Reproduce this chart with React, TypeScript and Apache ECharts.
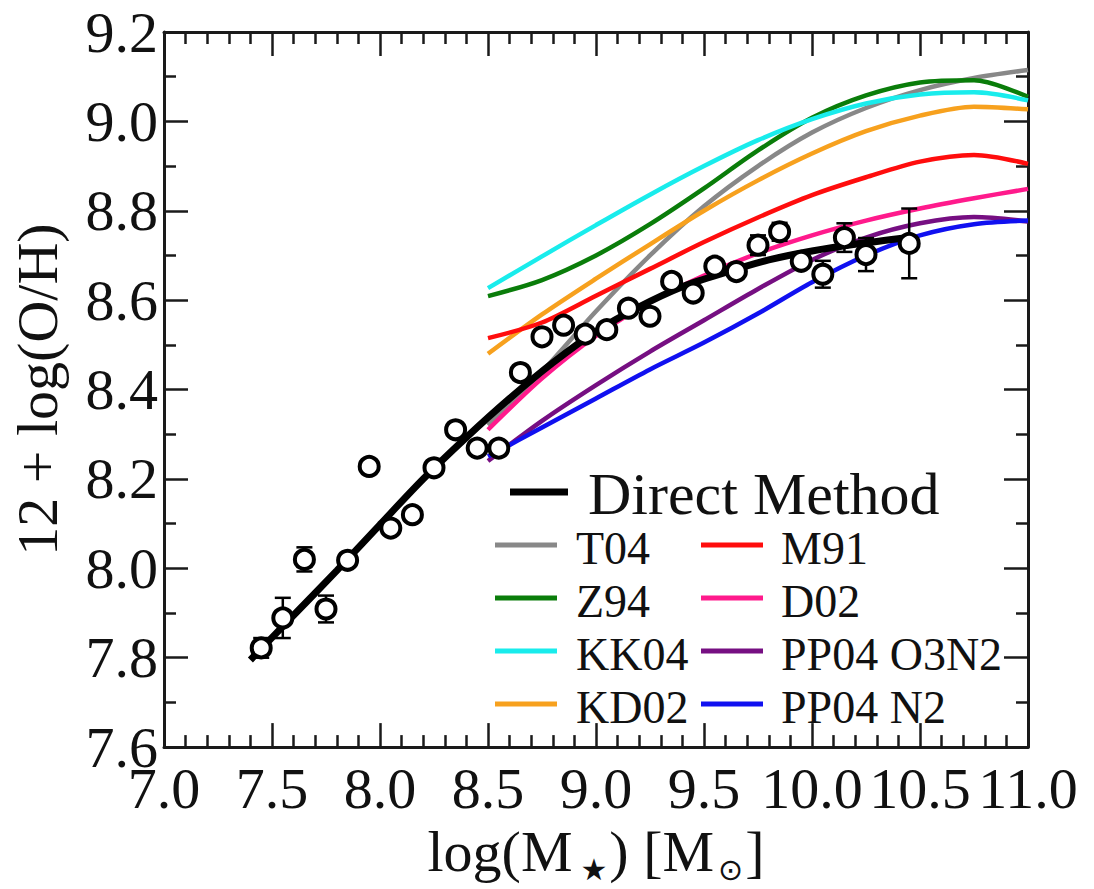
import React, { useEffect, useRef } from 'react';
import * as echarts from 'echarts';

// Direct-method binned data
const massBins = [7.45, 7.55, 7.65, 7.75, 7.85, 7.95, 8.05, 8.15, 8.25, 8.35, 8.45, 8.55, 8.65, 8.75, 8.85, 8.95, 9.05, 9.15, 9.25, 9.35, 9.45, 9.55, 9.65, 9.75, 9.85, 9.95, 10.05, 10.15, 10.25, 10.45];
const directOH = [7.822, 7.889, 8.02, 7.909, 8.018, 8.228, 8.09, 8.12, 8.225, 8.31, 8.269, 8.269, 8.438, 8.518, 8.544, 8.524, 8.534, 8.582, 8.564, 8.642, 8.616, 8.676, 8.664, 8.723, 8.753, 8.687, 8.658, 8.74, 8.702, 8.727];
const directErr = [0.022, 0.045, 0.027, 0.03, 0.01, 0.01, 0.01, 0.01, 0.01, 0.01, 0.01, 0.01, 0.01, 0.01, 0.01, 0.01, 0.01, 0.01, 0.01, 0.01, 0.01, 0.01, 0.01, 0.022, 0.02, 0.015, 0.03, 0.032, 0.037, 0.078];

// Direct method fit
const fitMass = [7.4, 7.6, 7.8, 8.0, 8.2, 8.4, 8.6, 8.8, 9.0, 9.2, 9.4, 9.6, 9.8, 10.0, 10.2, 10.45];
const fitOH = [7.795, 7.895, 7.995, 8.098, 8.2, 8.293, 8.38, 8.46, 8.53, 8.585, 8.63, 8.662, 8.69, 8.71, 8.725, 8.74];

// Strong-line calibrations
const calibMass = [8.5, 8.75, 9.0, 9.25, 9.5, 9.75, 10.0, 10.25, 10.5, 10.75, 11.0];
const T04 = [8.32, 8.44, 8.575, 8.7, 8.81, 8.9, 8.975, 9.03, 9.07, 9.097, 9.115];
const Z94 = [8.609, 8.645, 8.7, 8.77, 8.85, 8.935, 9.008, 9.058, 9.087, 9.092, 9.055];
const KK04 = [8.627, 8.698, 8.768, 8.836, 8.9, 8.958, 9.005, 9.04, 9.06, 9.065, 9.047];
const KD02 = [8.48, 8.568, 8.648, 8.725, 8.8, 8.868, 8.928, 8.978, 9.013, 9.033, 9.027];
const M91 = [8.515, 8.55, 8.61, 8.67, 8.73, 8.785, 8.835, 8.875, 8.91, 8.925, 8.905];
const D02 = [8.31, 8.425, 8.52, 8.595, 8.655, 8.705, 8.745, 8.778, 8.805, 8.828, 8.849];
const PP04O3N2 = [8.24, 8.33, 8.41, 8.485, 8.555, 8.625, 8.69, 8.74, 8.772, 8.786, 8.776];
const PP04N2 = [8.25, 8.315, 8.38, 8.445, 8.505, 8.57, 8.64, 8.7, 8.745, 8.77, 8.778];

const calibNames = ['T04', 'Z94', 'KK04', 'KD02', 'M91', 'D02', 'PP04 O3N2', 'PP04 N2'];
const calibValues = [T04, Z94, KK04, KD02, M91, D02, PP04O3N2, PP04N2];
const calibColors = ['#888888', '#0a7d0a', '#19ecec', '#f7a11e', '#ff0d0d', '#ff1a8c', '#760f82', '#1010f0'];

const FONT = 'Liberation Serif';

export default function App() {
  const ref = useRef<HTMLDivElement>(null);
  useEffect(() => {
    document.body.style.margin = '0';
    const chart = echarts.init(ref.current!, null, { renderer: 'svg' });

    const tickCommon = {
      axisLine: { show: true, lineStyle: { color: '#1a1a1a', width: 3 } },
      axisTick: { show: true, inside: true, length: 24, lineStyle: { color: '#1a1a1a', width: 2.5 } },
      splitLine: { show: false },
    };

    const xBase = {
      type: 'value', min: 7, max: 11, interval: 0.5,
      ...tickCommon,
      minorTick: { show: true, splitNumber: 5, length: 12, lineStyle: { color: '#1a1a1a', width: 2.5 } },
    };
    const yBase = {
      type: 'value', min: 7.6, max: 9.2, interval: 0.2,
      ...tickCommon,
      minorTick: { show: true, splitNumber: 2, length: 12, lineStyle: { color: '#1a1a1a', width: 2.5 } },
    };

    const calibSeries = calibNames.map((name, i) => ({
      name,
      type: 'line',
      data: calibMass.map((m, j) => [m, calibValues[i][j]]),
      smooth: 0.3,
      showSymbol: false,
      lineStyle: { color: calibColors[i], width: 4.5 },
      z: 2,
    }));

    const legendRows = [
      ['T04', 'M91'],
      ['Z94', 'D02'],
      ['KK04', 'PP04 O3N2'],
      ['KD02', 'PP04 N2'],
    ];
    const graphic: any[] = [
      { type: 'line', shape: { x1: 510, y1: 492, x2: 568, y2: 492 }, style: { stroke: '#000', lineWidth: 7 } },
      { type: 'text', x: 588, y: 494, style: { text: 'Direct Method', fontFamily: FONT, fontSize: 60, fill: '#111', verticalAlign: 'middle' } },
    ];
    legendRows.forEach((row, r) => {
      const y = 545 + r * 53;
      row.forEach((name, c) => {
        const idx = calibNames.indexOf(name);
        const lx = c === 0 ? 495 : 701;
        const tx = c === 0 ? 576 : 781;
        graphic.push({ type: 'line', shape: { x1: lx, y1: y, x2: lx + 62, y2: y }, style: { stroke: calibColors[idx], lineWidth: 5 } });
        graphic.push({ type: 'text', x: tx, y: y + 3, style: { text: name, fontFamily: FONT, fontSize: 46, fill: '#111', verticalAlign: 'middle' } });
      });
    });

    chart.setOption({
      animation: false,
      backgroundColor: '#fff',
      grid: { left: 163, right: 66, top: 32, bottom: 137 },
      xAxis: [
        {
          ...xBase,
          position: 'bottom',
          axisLabel: { show: true, fontFamily: FONT, fontSize: 58, color: '#111', margin: 12, formatter: (v: number) => v.toFixed(1) },
          name: '{a|log(M}{s|★}{a|) [M}{o|⊙}{a|]}',
          nameLocation: 'middle',
          nameGap: 70,
          nameTextStyle: {
            rich: {
              a: { fontFamily: FONT, fontSize: 58, color: '#111', lineHeight: 66, verticalAlign: 'middle' },
              s: { fontFamily: 'DejaVu Sans', fontSize: 30, color: '#111', lineHeight: 30, verticalAlign: 'bottom', padding: [0, 2, 0, 8] },
              o: { fontFamily: 'DejaVu Sans', fontSize: 30, color: '#111', lineHeight: 30, verticalAlign: 'bottom', padding: [0, 2, 0, 4] },
            },
          },
        },
        { ...xBase, position: 'top', axisLabel: { show: false } },
      ],
      yAxis: [
        {
          ...yBase,
          position: 'left',
          axisLabel: { show: true, fontFamily: FONT, fontSize: 58, color: '#111', margin: 6, formatter: (v: number) => v.toFixed(1) },
          name: '12 + log(O/H)',
          nameLocation: 'middle',
          nameRotate: 90,
          nameGap: 98,
          nameTextStyle: { fontFamily: FONT, fontSize: 58, color: '#111' },
        },
        { ...yBase, position: 'right', axisLabel: { show: false } },
      ],
      series: [
        ...calibSeries,
        {
          name: 'Direct Method',
          type: 'line',
          data: fitMass.map((m, i) => [m, fitOH[i]]),
          smooth: 0.3,
          showSymbol: false,
          lineStyle: { color: '#000', width: 7 },
          z: 3,
        },
        {
          type: 'custom',
          z: 4,
          data: massBins.map((m, i) => [m, directOH[i], directErr[i]]),
          encode: { x: 0, y: 1 },
          renderItem: (params: any, api: any) => {
            const x = api.value(0);
            const y = api.value(1);
            const e = api.value(2);
            const top = api.coord([x, y + e]);
            const bot = api.coord([x, y - e]);
            const w = 8;
            const st = { stroke: '#000', lineWidth: 2.5 };
            return {
              type: 'group',
              children: [
                { type: 'line', shape: { x1: top[0], y1: top[1], x2: bot[0], y2: bot[1] }, style: st },
                { type: 'line', shape: { x1: top[0] - w, y1: top[1], x2: top[0] + w, y2: top[1] }, style: st },
                { type: 'line', shape: { x1: bot[0] - w, y1: bot[1], x2: bot[0] + w, y2: bot[1] }, style: st },
              ],
            };
          },
        },
        {
          type: 'scatter',
          data: massBins.map((m, i) => [m, directOH[i]]),
          symbol: 'circle',
          symbolSize: 19,
          itemStyle: { color: '#fff', borderColor: '#000', borderWidth: 4, opacity: 1 },
          z: 5,
        },
      ],
      graphic,
    });
    return () => chart.dispose();
  }, []);
  return <div ref={ref} style={{ width: 1094, height: 889 }} />;
}
